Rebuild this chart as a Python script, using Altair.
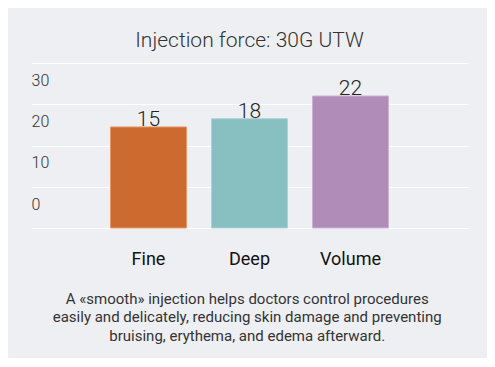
import altair as alt
import pandas as pd

categories = ["Fine", "Deep", "Volume"]
force_labels = [15, 18, 22]          # numbers printed above the bars
bar_heights = [24.5, 26.5, 32.0]     # bar tops as drawn against the gridlines
bar_colors = ["#CC6A2F", "#88BFC1", "#B08DB8"]
stroke_colors = ["#E59A6C", "#A9D3D5", "#CDB0D4"]
grid_values = [0, 10, 20, 30, 40]
title_text = "Injection force: 30G UTW"
caption = [
    "A «smooth» injection helps doctors control procedures",
    "easily and delicately, reducing skin damage and preventing",
    "bruising, erythema, and edema afterward.",
]

df = pd.DataFrame({"category": categories, "height": bar_heights, "label": force_labels})

x = alt.X(
    "category:N",
    sort=categories,
    scale=alt.Scale(paddingInner=0.2475, paddingOuter=0.787),
    axis=alt.Axis(
        title=caption,
        labelFontSize=18,
        labelFontWeight="normal",
        labelColor="#111111",
        labelFont="Roboto",
        labelPadding=22,
        labelAngle=0,
        domain=False,
        ticks=False,
        titleFont="Roboto",
        titleFontSize=15,
        titleFontWeight="normal",
        titleColor="#333333",
        titleLineHeight=18.8,
        titleX=215.7,
        titleY=63,
        titleAlign="center",
        titleBaseline="top",
    ),
)
y = alt.Y(
    "height:Q",
    scale=alt.Scale(domain=[0, 40], nice=False),
    axis=alt.Axis(
        title=None,
        values=grid_values,
        labelExpr="datum.value == 40 ? '' : datum.label",
        labelAlign="left",
        labelPadding=0,
        labelOffset=-24,
        ticks=False,
        domain=False,
        gridColor="#FFFFFF",
        gridWidth=1,
        labelFont="Roboto",
        labelFontSize=16,
        labelFontWeight=300,
        labelColor="#333333",
    ),
)

base = alt.Chart(df).encode(x=x, y=y)

bars = base.mark_bar(strokeWidth=1).encode(
    fill=alt.Fill("category:N", scale=alt.Scale(domain=categories, range=bar_colors), legend=None),
    stroke=alt.Stroke("category:N", scale=alt.Scale(domain=categories, range=stroke_colors), legend=None),
)
labels = base.mark_text(
    font="Roboto", fontSize=21, fontWeight=300, baseline="alphabetic", dy=-1, color="#222222"
).encode(text="label:Q")

chart = (
    alt.layer(bars, labels)
    .properties(
        width=437,
        height=165,
        padding={"left": 23, "top": 55, "right": 19, "bottom": 130},
        autosize="none",
        background="#EEEFF3",
        title=alt.TitleParams(
            title_text, font="Roboto", fontSize=21, fontWeight=300, color="#333333",
            offset=12, anchor="middle",
        ),
    )
    .configure_view(stroke=None)
)

chart.save("out.html", embed_options={"renderer": "svg", "actions": False})
